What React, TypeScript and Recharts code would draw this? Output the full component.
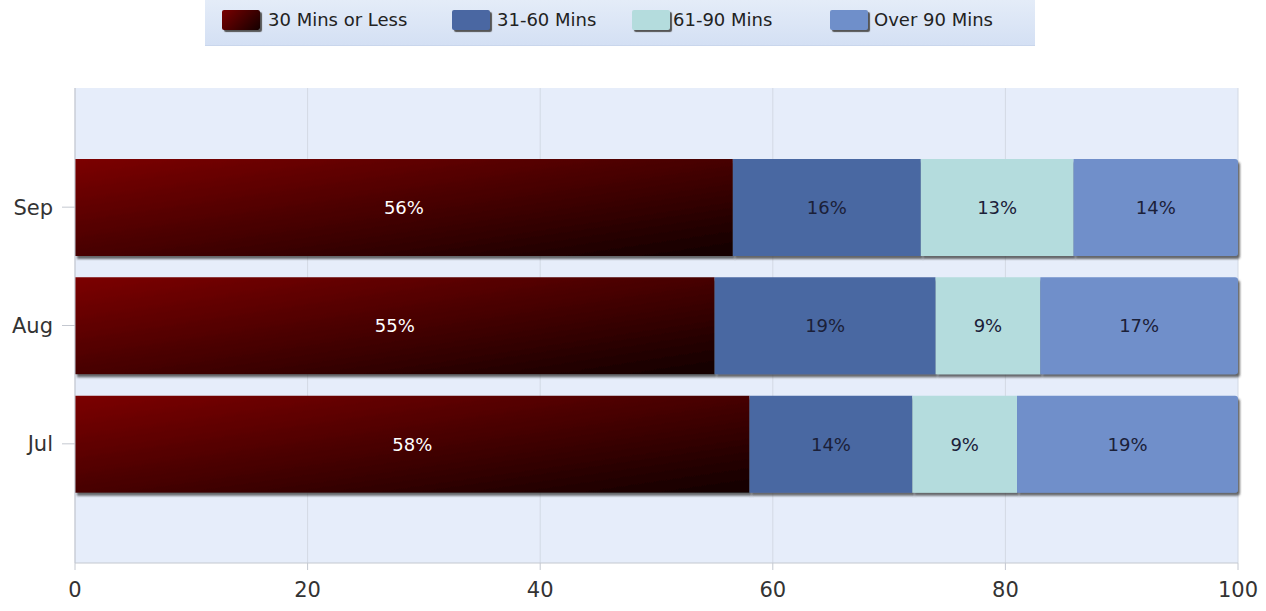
import { BarChart, Bar, XAxis, YAxis, CartesianGrid, LabelList, Rectangle } from "recharts";

const months = ["Sep", "Aug", "Jul"];
const under30 = [56, 55, 58];
const mins31to60 = [16, 19, 14];
const mins61to90 = [13, 9, 9];
const over90 = [14, 17, 19];
const xTicks = [0, 0.2, 0.4, 0.6, 0.8, 1];

const seriesNames = ["30 Mins or Less", "31-60 Mins", "61-90 Mins", "Over 90 Mins"];
const seriesColors = ["url(#redGrad)", "#4a67a2", "#b4dcdd", "#6f8fca"];

const data = months.map((m, i) => ({
  month: m,
  a: under30[i],
  b: mins31to60[i],
  c: mins61to90[i],
  d: over90[i],
}));

const FONT = "'DejaVu Sans', Verdana, sans-serif";

const ShadowBar = (props: any) => <Rectangle {...props} filter="url(#barShadow)" />;

const legendPos = [
  { swatch: 222, text: 268 },
  { swatch: 452, text: 497 },
  { swatch: 632, text: 673 },
  { swatch: 830, text: 874 },
];

function Legend() {
  return (
    <div
      style={{
        position: "absolute",
        left: 205,
        top: 0,
        width: 830,
        height: 45,
        background: "linear-gradient(#e4ecf8, #d4e0f4)",
        borderBottom: "1px solid #c9d6ec",
      }}
    >
      {seriesNames.map((name, i) => (
        <div key={name}>
          <div
            style={{
              position: "absolute",
              left: legendPos[i].swatch - 205,
              top: 10,
              width: 38,
              height: 20,
              borderRadius: 2,
              background: i === 0 ? "linear-gradient(135deg, #7a0000, #140000)" : seriesColors[i],
              boxShadow: "2px 2px 1px #555",
            }}
          />
          <div
            style={{
              position: "absolute",
              left: legendPos[i].text - 205,
              top: 9,
              fontFamily: FONT,
              fontSize: 18,
              color: "#222",
              whiteSpace: "nowrap",
            }}
          >
            {name}
          </div>
        </div>
      ))}
    </div>
  );
}

export default function App() {
  return (
    <div style={{ position: "absolute", left: 0, top: 0, width: 1266, height: 611, background: "#fff" }}>
      <Legend />
      <BarChart
        width={1266}
        height={611}
        data={data}
        layout="vertical"
        stackOffset="expand"
        barSize={97}
        margin={{ top: 88, right: 28, left: 0, bottom: 0 }}
      >
        <defs>
          <linearGradient id="redGrad" x1="0" y1="0" x2="1" y2="1">
            <stop offset="0%" stopColor="#7c0000" />
            <stop offset="100%" stopColor="#120000" />
          </linearGradient>
          <filter id="barShadow" x="-5%" y="-10%" width="115%" height="130%">
            <feDropShadow dx="2" dy="3" stdDeviation="1" floodColor="#3a3a3a" floodOpacity="0.75" />
          </filter>
        </defs>
        <CartesianGrid horizontal={false} stroke="#d3d9e4" fill="#e6edfa" />
        <XAxis
          type="number"
          domain={[0, 1]}
          ticks={xTicks}
          tickFormatter={(v) => `${Math.round(v * 100)}`}
          height={48}
          stroke="#c4c8d0"
          tickSize={7}
          tickMargin={12}
          tick={{ fill: "#333", fontSize: 21, fontFamily: FONT }}
        />
        <YAxis
          type="category"
          dataKey="month"
          width={75}
          padding={{ top: 60, bottom: 60 }}
          stroke="#c4c8d0"
          tickSize={13}
          tickMargin={9}
          tick={{ fill: "#333", fontSize: 21, fontFamily: FONT }}
        />
        <Bar dataKey="a" stackId="s" fill={seriesColors[0]} isAnimationActive={false} shape={ShadowBar}>
          <LabelList dataKey="a" position="center" formatter={(v: any) => `${v}%`} fill="#fff" fontSize={18} fontFamily={FONT} />
        </Bar>
        <Bar dataKey="b" stackId="s" fill={seriesColors[1]} isAnimationActive={false} shape={ShadowBar}>
          <LabelList dataKey="b" position="center" formatter={(v: any) => `${v}%`} fill="#1b2038" fontSize={18} fontFamily={FONT} />
        </Bar>
        <Bar dataKey="c" stackId="s" fill={seriesColors[2]} isAnimationActive={false} shape={ShadowBar}>
          <LabelList dataKey="c" position="center" formatter={(v: any) => `${v}%`} fill="#1b2038" fontSize={18} fontFamily={FONT} />
        </Bar>
        <Bar dataKey="d" stackId="s" fill={seriesColors[3]} isAnimationActive={false} shape={ShadowBar} radius={[0, 3, 3, 0]}>
          <LabelList dataKey="d" position="center" formatter={(v: any) => `${v}%`} fill="#1b2038" fontSize={18} fontFamily={FONT} />
        </Bar>
      </BarChart>
    </div>
  );
}
